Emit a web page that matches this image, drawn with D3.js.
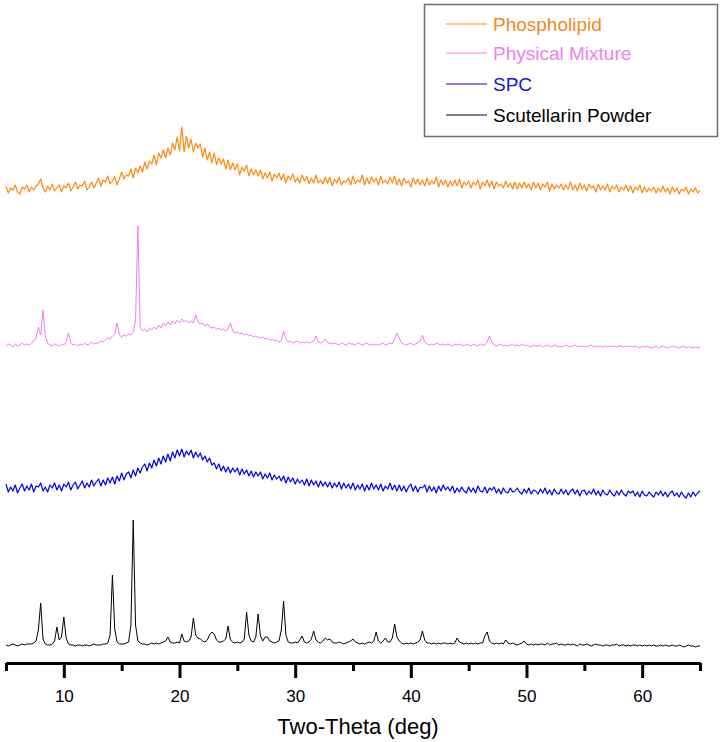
<!DOCTYPE html>
<html>
<head>
    <meta charset="utf-8">
    <style>
        body { margin: 0; background: #fff; }
        svg { display: block; font-family: "Liberation Sans", Arial, sans-serif; }
        .axis path, .axis line { stroke: #000; stroke-width: 3; }
        .axis text { font-size: 17px; fill: #000; }
    </style>
</head>
<body>
<div id="chart"></div>
<script src="https://cdn.jsdelivr.net/npm/d3@7"></script>
<script>

    var w = 724;
    var h = 742;

    // scan settings: 5 to 65 deg, one reading every 0.2 deg
    var scanStart = 5;
    var scanStep = 0.2;

    var seriesNames = ["Phospholipid", "Physical Mixture", "SPC", "Scutellarin Powder"];
    var seriesColors = ["#FF8A10", "#F07EF0", "#0000EE", "#000000"];
    var legendColors = ["#F08A20", "#EE82EE", "#1414CC", "#000000"];
    var strokeWidths = [1.2, 1, 1.2, 1];
    // vertical stacking offset of each pattern (a.u.)
    var offsets = [456, 300, 157, 0];
    var xTicks = [10, 20, 30, 40, 50, 60];
    var xMinorTicks = [5, 15, 25, 35, 45, 55, 65];

    // intensities (a.u.), one row = 2 deg
    var phospholipid = [
        23,16,21,19,24,17,15,22,20,24,
        17,22,19,23,25,30,21,17,23,19,
        25,18,21,24,17,23,21,26,18,22,
        27,20,24,23,28,19,22,27,21,26,
        31,23,29,27,33,25,28,32,24,30,
        37,30,34,33,40,31,41,36,43,37,
        47,40,48,45,54,44,56,51,59,51,
        61,54,66,59,72,58,82,57,73,61,
        70,57,66,61,65,52,61,49,57,46,
        56,44,51,45,50,40,49,39,46,39,
        45,34,42,38,44,33,40,34,39,33,
        39,30,36,31,37,28,35,31,36,29,
        35,26,33,29,35,27,31,26,34,28,
        33,25,31,26,34,26,29,25,32,26,
        32,23,30,26,32,24,28,27,31,24,
        33,25,29,27,34,24,31,25,32,27,
        31,24,33,26,29,25,32,26,33,24,
        30,23,31,26,28,22,31,25,30,24,
        29,23,31,24,28,25,32,22,29,24,
        29,22,28,23,29,23,30,21,27,24,
        28,21,27,24,29,20,27,23,29,22,
        28,20,27,23,25,21,28,22,26,20,
        27,20,26,21,27,21,25,19,27,21,
        26,19,25,22,27,18,25,20,24,21,
        25,19,24,20,27,19,24,18,26,20,
        24,18,25,21,23,17,25,19,23,19,
        25,17,23,20,24,17,22,19,24,18,
        23,16,22,19,24,16,22,17,21,18,
        22,16,21,17,23,17,21,15,22,17,
        21,15,20,18,22,15,20,17,21,16,
        19
    ];

    var physicalMixture = [
        19,21,20,18,21,19,20,22,20,21,
        20,22,24,27,38,30,55,29,22,20,
        19,21,20,19,21,20,23,32,22,20,
        21,19,21,20,22,20,21,23,21,22,
        22,24,23,25,27,26,29,31,42,30,
        28,30,29,31,30,33,45,139,38,34,
        36,33,37,35,38,36,40,37,42,39,
        43,40,44,41,45,42,46,43,45,42,
        44,42,50,43,41,42,39,41,38,37,
        38,36,37,35,36,34,36,42,34,32,
        33,31,32,30,31,29,30,28,29,28,
        27,28,26,27,25,26,24,25,23,24,
        34,26,23,24,22,23,24,22,23,22,
        23,22,23,24,29,23,22,23,26,22,
        22,21,22,21,20,22,21,20,22,21,
        21,20,22,21,20,21,22,20,21,20,
        21,20,21,22,20,21,22,21,26,32,
        27,22,21,20,21,22,20,21,22,24,
        30,23,21,20,21,20,22,21,20,21,
        20,21,20,19,21,20,21,20,19,21,
        20,19,21,20,19,21,20,20,23,29,
        23,20,19,20,21,19,20,19,20,21,
        19,20,19,21,19,20,19,18,20,19,
        19,20,18,19,20,19,18,20,19,18,
        19,18,20,19,18,19,20,18,19,18,
        19,18,19,20,18,19,18,19,18,19,
        18,19,18,19,18,19,19,18,19,18,
        19,18,19,18,17,19,18,19,18,17,
        18,19,17,18,19,18,17,18,19,18,
        18,17,18,19,17,18,18,17,18,17,
        18
    ];

    var spc = [
        24,16,21,17,23,15,20,24,17,22,
        18,24,16,22,21,25,17,21,16,23,
        20,25,18,23,17,24,21,26,18,23,
        26,19,23,27,20,25,21,28,22,26,
        29,22,28,23,30,25,31,24,32,27,
        35,28,34,36,30,38,32,40,35,41,
        44,37,45,40,48,42,50,44,52,46,
        54,47,56,50,58,52,59,51,57,53,
        58,50,56,51,55,48,52,46,50,43,
        45,39,44,37,42,36,41,35,40,36,
        40,33,39,34,38,32,37,31,36,32,
        36,29,34,30,35,28,33,29,32,27,
        32,25,31,26,30,24,29,25,28,23,
        29,22,28,23,27,21,27,22,26,21,
        26,20,25,21,26,19,25,20,24,19,
        25,18,23,19,24,17,23,18,25,19,
        23,18,24,17,22,19,25,18,23,17,
        23,17,22,16,21,24,17,22,16,21,
        20,23,16,22,17,21,15,22,17,23,
        18,21,17,22,15,20,16,21,17,15,
        21,16,20,15,22,17,16,21,15,20,
        18,21,15,19,14,20,16,15,20,16,
        17,20,16,14,19,15,20,14,18,17,
        14,19,15,20,14,18,13,19,15,14,
        19,14,18,13,17,19,14,18,12,17,
        18,13,17,14,19,13,17,12,18,14,
        13,18,14,12,17,13,18,14,12,17,
        15,17,12,16,11,17,13,12,16,13,
        11,16,13,17,12,16,11,15,17,12,
        15,11,16,12,10,15,11,16,12,15,
        17
    ];

    var scutellarin = [
        20,19,20,21,20,19,20,21,20,21,
        21,21,22,24,35,62,26,21,20,20,
        21,24,38,25,28,48,27,21,20,20,
        19,20,20,19,20,20,19,20,21,20,
        20,20,21,21,22,30,90,36,23,21,
        21,21,22,23,40,145,40,24,22,21,
        21,20,21,22,21,22,21,22,23,24,
        28,23,22,22,23,22,31,24,23,24,
        28,47,30,27,26,24,23,25,30,33,
        31,25,23,23,24,26,39,25,23,22,
        23,22,23,26,53,30,24,23,28,51,
        29,24,28,28,24,23,22,23,24,35,
        64,30,23,22,22,23,22,25,29,23,
        22,23,26,34,25,23,22,24,27,25,
        26,23,22,22,23,22,21,22,23,24,
        26,23,22,21,22,21,22,23,22,24,
        33,24,22,24,27,23,23,27,41,28,
        24,22,21,22,21,22,21,22,23,25,
        34,25,22,22,21,22,21,22,21,22,
        22,21,22,21,22,27,23,22,21,22,
        21,22,21,22,21,22,22,29,33,24,
        22,21,22,21,22,21,25,22,21,22,
        21,20,21,22,24,21,20,21,20,21,
        20,21,21,20,22,20,21,21,22,20,
        21,20,20,21,20,21,20,19,21,20,
        20,21,20,19,20,21,20,20,19,20,
        20,19,20,20,21,19,20,20,19,20,
        19,20,20,19,20,19,20,19,20,19,
        20,19,19,20,19,20,19,19,20,19,
        19,20,19,18,19,20,19,19,18,19,
        19
    ];

    var patterns = [phospholipid, physicalMixture, spc, scutellarin];

    var xScale = d3.scaleLinear()
        .domain([5, 65])
        .range([6, 700]);

    var yScale = d3.scaleLinear()
        .domain([0, 650])
        .range([665, 15]);

    var svg = d3.select("#chart")
        .append("svg")
        .attr("width", w)
        .attr("height", h);

    var line = d3.line()
        .x(function (d) {
            return xScale(d[0]);
        })
        .y(function (d) {
            return yScale(d[1]);
        });

    // draw the patterns
    patterns.forEach(function (vals, k) {
        var pts = vals.map(function (v, i) {
            return [scanStart + i * scanStep, v + offsets[k]];
        });
        svg.append("path")
            .datum(pts)
            .attr("d", line)
            .attr("fill", "none")
            .attr("stroke", seriesColors[k])
            .attr("stroke-width", strokeWidths[k])
            .attr("stroke-linejoin", "round");
    });

    var axisY = 663;

    // minor ticks
    svg.append("g")
        .attr("class", "axis")
        .attr("transform", "translate(0," + axisY + ")")
        .call(d3.axisBottom(xScale).tickValues(xMinorTicks).tickSize(8).tickSizeOuter(0).tickFormat(""));

    // major ticks + labels
    var xAxis = svg.append("g")
        .attr("class", "axis")
        .attr("transform", "translate(0," + axisY + ")")
        .call(d3.axisBottom(xScale).tickValues(xTicks).tickSize(15).tickSizeOuter(0).tickPadding(12));
    xAxis.selectAll("text").attr("dy", "0.71em");

    svg.append("text")
        .attr("x", 358)
        .attr("y", 734)
        .attr("text-anchor", "middle")
        .attr("font-size", "22px")
        .text("Two-Theta (deg)");

    // legend
    var legend = svg.append("g");
    legend.append("rect")
        .attr("x", 424.5)
        .attr("y", 4.5)
        .attr("width", 293)
        .attr("height", 132)
        .attr("fill", "#fff")
        .attr("stroke", "#6e6e6e")
        .attr("stroke-width", 1.5);

    var rowY = [24, 53, 84, 115];
    seriesNames.forEach(function (name, k) {
        legend.append("line")
            .attr("x1", 446)
            .attr("x2", 487)
            .attr("y1", rowY[k])
            .attr("y2", rowY[k])
            .attr("stroke", seriesColors[k])
            .attr("stroke-width", 1);
        legend.append("text")
            .attr("x", 493)
            .attr("y", rowY[k])
            .attr("dy", "0.36em")
            .attr("font-size", "19px")
            .attr("fill", legendColors[k])
            .text(name);
    });

</script>
</body>
</html>
